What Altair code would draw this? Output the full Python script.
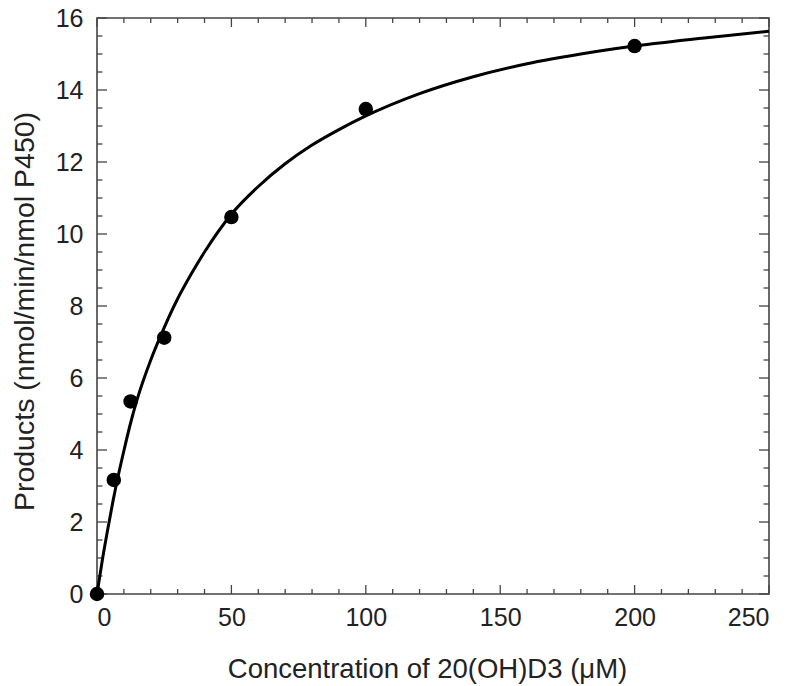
import altair as alt
import pandas as pd

# Measured data points
conc = [0, 6.25, 12.5, 25, 50, 100, 200]
products = [0.0, 3.17, 5.35, 7.12, 10.47, 13.47, 15.22]

# Fitted curve
curve_x = [0, 2, 4, 6, 8, 10, 12.5, 15, 20, 25, 30, 35, 40, 50, 60, 70, 80, 90,
           100, 120, 140, 160, 180, 200, 225, 250]
curve_y = [0.0, 0.95, 1.8, 2.6, 3.32, 3.98, 4.75, 5.42, 6.5, 7.4, 8.2, 8.88,
           9.5, 10.55, 11.32, 11.95, 12.47, 12.9, 13.28, 13.9, 14.37, 14.73,
           15.0, 15.22, 15.44, 15.63]

# Axis ticks
x_major = [0, 50, 100, 150, 200, 250]
x_minor = [v for v in range(0, 251, 10) if v % 50 != 0]
y_major = [0, 2, 4, 6, 8, 10, 12, 14, 16]
y_minor = [v / 2 for v in range(0, 33) if v % 4 != 0]

XMAX, YMAX = 250, 16
W, H = 672, 576
# tick lengths in pixels converted to data units
xt_major, xt_minor = 9 / H * YMAX, 5 / H * YMAX
yt_major, yt_minor = 10 / W * XMAX, 5.5 / W * XMAX

rows = []
for vals, L in ((x_major, xt_major), (x_minor, xt_minor)):
    for t in vals:
        rows.append(dict(x=t, x2=t, y=0, y2=L))
        rows.append(dict(x=t, x2=t, y=YMAX, y2=YMAX - L))
for vals, L in ((y_major, yt_major), (y_minor, yt_minor)):
    for t in vals:
        rows.append(dict(x=0, x2=L, y=t, y2=t))
        rows.append(dict(x=XMAX, x2=XMAX - L, y=t, y2=t))
ticks = pd.DataFrame(rows)

pts = pd.DataFrame({"x": conc, "y": products})
crv = pd.DataFrame({"x": curve_x, "y": curve_y})

xs = alt.Scale(domain=[0, XMAX], nice=False)
ys = alt.Scale(domain=[0, YMAX], nice=False)

xaxis = alt.Axis(values=x_major, domain=False, ticks=False, grid=False,
                 labelFontSize=25, labelPadding=11, labelColor="#222",
                 title="Concentration of 20(OH)D3 (μM)", titleFontSize=27.5,
                 titleFontWeight="normal", titleColor="#222",
                 titleBaseline="alphabetic", titleY=83, titleX=330)
yaxis = alt.Axis(values=y_major, domain=False, ticks=False, grid=False,
                 labelFontSize=25, labelPadding=14, labelColor="#222",
                 title="Products (nmol/min/nmol P450)", titleFontSize=28.5,
                 titleFontWeight="normal", titleColor="#222",
                 titleBaseline="alphabetic", titleX=-64, titleY=293)

tick_layer = alt.Chart(ticks).mark_rule(color="#444", strokeWidth=1.3).encode(
    x=alt.X("x:Q", scale=xs, axis=xaxis),
    x2="x2:Q",
    y=alt.Y("y:Q", scale=ys, axis=yaxis),
    y2="y2:Q",
)

line = alt.Chart(crv).mark_line(color="black", strokeWidth=3,
                                interpolate="monotone").encode(
    x=alt.X("x:Q", scale=xs),
    y=alt.Y("y:Q", scale=ys),
)

dots = alt.Chart(pts).mark_circle(color="black", opacity=1, size=210).encode(
    x=alt.X("x:Q", scale=xs),
    y=alt.Y("y:Q", scale=ys),
)

chart = alt.layer(tick_layer, line, dots).properties(
    width=W, height=H,
    padding={"left": 89, "top": 10, "right": 23, "bottom": 92},
    autosize=alt.AutoSizeParams(type="none"),
    background="white",
).configure_view(stroke="#444", strokeWidth=1.6).configure_axis(
    labelFont="Liberation Sans", titleFont="Liberation Sans"
)

chart.save("out.html", embed_options={"renderer": "svg", "actions": False})
